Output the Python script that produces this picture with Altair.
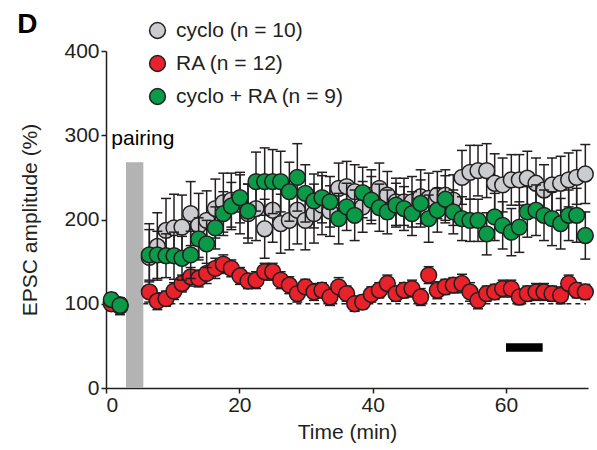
import altair as alt
import pandas as pd

# ---------------- data ----------------
series_names = ["cyclo (n = 10)", "RA (n = 12)", "cyclo + RA (n = 9)"]
fills = ["#cbcccf", "#e8212a", "#0a9a48"]

time = [0.8, 2.1,
        6.5, 7.7, 9.0, 10.2, 11.4, 12.7, 13.9, 15.1, 16.4, 17.6,
        18.8, 20.1, 21.3, 22.5, 23.8, 25.0, 26.2, 27.5, 28.7, 29.9,
        31.2, 32.4, 33.6, 34.9, 36.1, 37.3, 38.5, 39.8, 41.0, 42.2,
        43.5, 44.7, 45.9, 47.2, 48.4, 49.7, 50.9, 52.1, 53.4, 54.6,
        55.8, 57.1, 58.3, 59.5, 60.8, 62.0, 63.2, 64.5, 65.7, 66.9,
        68.2, 69.4, 70.6, 71.9]

gray = [102, 97,
        155, 168, 187, 190, 191, 207, 193, 199, 213, 220,
        223, 218, 207, 213, 189, 211, 195, 199, 211, 199,
        207, 217, 210, 237, 239, 233, 215, 229, 237, 229,
        221, 221, 221, 227, 225, 229, 229, 223, 250, 256,
        258, 258, 243, 241, 247, 247, 249, 243, 235, 241,
        243, 247, 250, 254]
gray_err = [10, 10,
            40, 40, 38, 40, 38, 38, 38, 35, 35, 35,
            32, 35, 35, 38, 35, 38, 35, 35, 40, 35,
            35, 35, 30, 30, 30, 32, 30, 30, 30, 28,
            28, 28, 30, 32, 30, 28, 30, 30, 32, 32,
            30, 32, 35, 32, 30, 30, 32, 30, 30, 32,
            32, 32, 32, 35]

red = [100, 99,
       114, 103, 106, 115, 124, 132, 130, 136, 142, 147,
       142, 133, 127, 128, 138, 138, 128, 122, 112, 120,
       114, 116, 108, 120, 112, 100, 102, 111, 116, 124,
       112, 116, 118, 108, 134, 116, 120, 122, 124, 114,
       104, 112, 114, 118, 118, 108, 112, 114, 114, 112,
       110, 124, 116, 114]
red_err = [6, 6,
           12, 10, 9, 10, 10, 11, 10, 12, 12, 11,
           10, 10, 9, 10, 10, 10, 10, 10, 10, 9,
           10, 9, 10, 11, 9, 9, 8, 9, 9, 10,
           9, 9, 10, 10, 10, 10, 9, 9, 11, 11,
           10, 9, 9, 10, 10, 9, 9, 10, 10, 9,
           10, 10, 9, 9]

green = [105, 98,
         158, 158, 157, 157, 154, 158, 177, 171, 190, 207,
         216, 226, 210, 245, 245, 245, 245, 233, 250, 231,
         222, 226, 221, 201, 215, 205, 232, 223, 214, 209,
         217, 213, 207, 219, 201, 211, 224, 209, 201, 199,
         199, 183, 203, 193, 185, 191, 209, 211, 205, 201,
         195, 205, 205, 181]
green_err = [8, 8,
             30, 28, 26, 28, 26, 28, 25, 28, 25, 26,
             28, 30, 32, 35, 40, 38, 36, 35, 40, 34,
             32, 30, 30, 30, 28, 30, 30, 28, 28, 26,
             26, 26, 26, 28, 28, 26, 28, 26, 26, 25,
             25, 25, 28, 28, 28, 30, 30, 30, 30, 32,
             30, 30, 32, 28]

pairing_x = [3.0]
pairing_x2 = [5.6]
pairing_top = [268]
drug_x = [60.0]
drug_x2 = [65.5]
drug_y = [43]
drug_y2 = [53]
baseline_start = [5.6]
baseline_end = [72.0]
baseline_level = [100]
label_x = [0.8]
label_y = [288]
label_text = ["pairing"]
panel_x = [-13.3]
panel_y = [421]
panel_text = ["D"]

# ---------------- build ----------------
FONT = "Liberation Sans"
INK = "#231f20"
FS = 21

rows = []
for name, vals, errs in zip(series_names, [gray, red, green], [gray_err, red_err, green_err]):
    for t, v, e in zip(time, vals, errs):
        rows.append(dict(series=name, t=t, v=v, lo=v - e, hi=v + e))
df = pd.DataFrame(rows)

x_scale = alt.Scale(domain=[0, 72.3], nice=False, zero=False)
y_scale = alt.Scale(domain=[0, 400], nice=False)

common_axis = dict(grid=False, domainColor=INK, domainWidth=1.5, tickColor=INK,
                   tickWidth=1.5, tickSize=5, labelFontSize=FS, titleFontSize=FS,
                   titleFontWeight="normal", labelFont=FONT, titleFont=FONT,
                   labelColor=INK, titleColor=INK)
x_axis = alt.Axis(values=[0, 20, 40, 60], title="Time (min)", labelPadding=1,
                  titlePadding=6, **common_axis)
y_axis = alt.Axis(values=[0, 100, 200, 300, 400], title="EPSC amplitude (%)",
                  labelPadding=2, titlePadding=23, **common_axis)

X = lambda f: alt.X(f, scale=x_scale, axis=x_axis)
Y = lambda f: alt.Y(f, scale=y_scale, axis=y_axis)

pair_df = pd.DataFrame({"x": pairing_x, "x2": pairing_x2, "y": [0], "y2": pairing_top})
pair_bar = alt.Chart(pair_df).mark_rect(color="#b3b3b3").encode(
    x=X("x:Q"), x2="x2:Q", y=Y("y:Q"), y2="y2:Q")

drug_df = pd.DataFrame({"x": drug_x, "x2": drug_x2, "y": drug_y, "y2": drug_y2})
drug_bar = alt.Chart(drug_df).mark_rect(color="#000000").encode(
    x=X("x:Q"), x2="x2:Q", y=Y("y:Q"), y2="y2:Q")

base_df = pd.DataFrame({"x": baseline_start, "x2": baseline_end, "y": baseline_level})
dashed = alt.Chart(base_df).mark_rule(color=INK, strokeWidth=1.5, strokeDash=[5, 4]).encode(
    x=X("x:Q"), x2="x2:Q", y=Y("y:Q"))

lab_df = pd.DataFrame({"x": label_x, "y": label_y, "text": label_text})
pair_label = alt.Chart(lab_df).mark_text(align="left", baseline="alphabetic", fontSize=FS,
                                         font=FONT, color="#000000").encode(
    x=X("x:Q"), y=Y("y:Q"), text="text:N")

panel_df = pd.DataFrame({"x": panel_x, "y": panel_y, "text": panel_text})
panel_label = alt.Chart(panel_df).mark_text(align="left", baseline="alphabetic", fontSize=28,
                                            fontWeight="bold", font=FONT, color="#000000",
                                            clip=False).encode(
    x=X("x:Q"), y=Y("y:Q"), text="text:N")

legend = alt.Legend(title=None, orient="none", legendX=41, legendY=-31,
                    symbolType="circle", symbolSize=250, symbolStrokeColor=INK,
                    symbolStrokeWidth=1.5, symbolOpacity=1, labelFontSize=FS,
                    labelFont=FONT, labelColor=INK, rowPadding=10, labelOffset=8,
                    labelLimit=400)
fill_enc = alt.Fill("series:N", scale=alt.Scale(domain=series_names, range=fills),
                    legend=legend)

layers = [pair_bar, dashed, drug_bar]
base = alt.Chart(df)
for name in series_names:
    sub = base.transform_filter(alt.datum.series == name)
    rules = sub.mark_rule(color=INK, strokeWidth=1.5).encode(x=X("t:Q"), y=Y("lo:Q"), y2="hi:Q")
    cap_hi = sub.mark_tick(orient="horizontal", size=10, thickness=1.5, color=INK, opacity=1).encode(
        x=X("t:Q"), y=Y("hi:Q"))
    cap_lo = sub.mark_tick(orient="horizontal", size=10, thickness=1.5, color=INK, opacity=1).encode(
        x=X("t:Q"), y=Y("lo:Q"))
    pts = sub.mark_circle(size=250, stroke=INK, strokeWidth=1.5, opacity=1).encode(
        x=X("t:Q"), y=Y("v:Q"), fill=fill_enc)
    layers += [rules, cap_hi, cap_lo, pts]
layers += [pair_label, panel_label]

chart = alt.layer(*layers).properties(
    width=482, height=337,
    padding={"left": 106, "top": 51, "right": 9, "bottom": 62},
    autosize=alt.AutoSizeParams(type="none"),
).configure_view(stroke=None)

chart.save("out.html", embed_options={"renderer": "svg", "actions": False})
